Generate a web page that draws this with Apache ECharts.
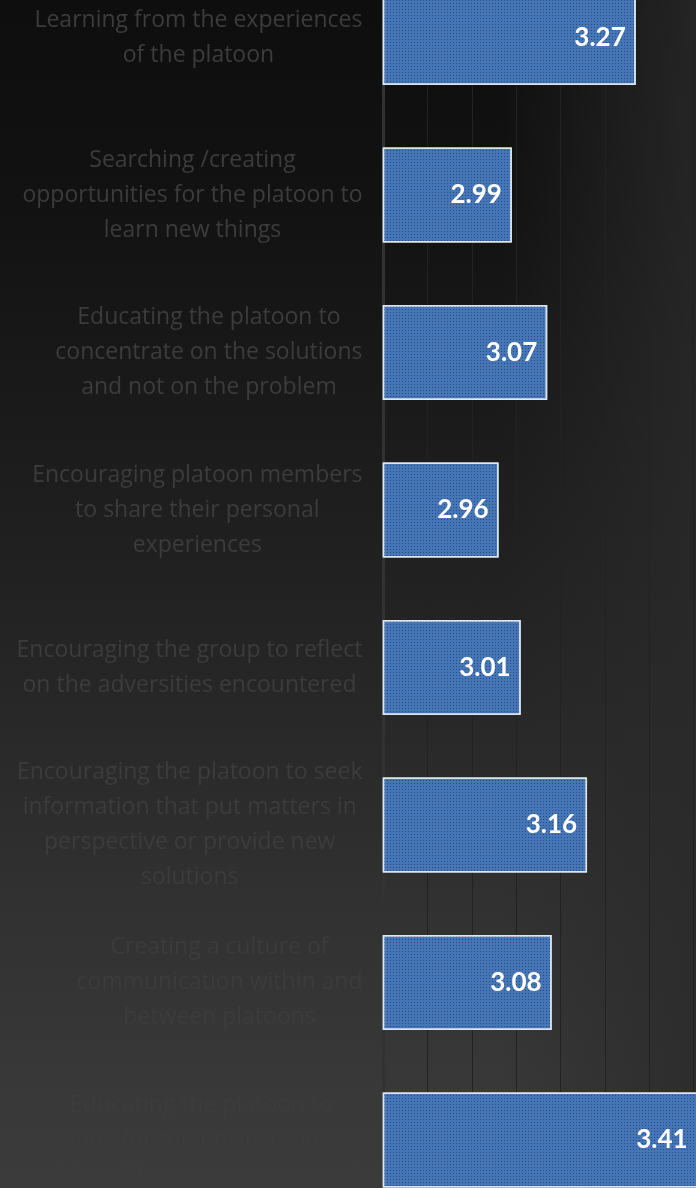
<!DOCTYPE html>
<html>
<head>
<meta charset="utf-8">
<script src="https://cdn.jsdelivr.net/npm/echarts@6/dist/echarts.min.js"></script>
<style>
html,body{margin:0;padding:0;background:#0e0e0e;}
#chart{width:696px;height:1188px;}
</style>
</head>
<body>
<div id="chart"></div>
<script>
var categories = [
  "Learning from the experiences\nof the platoon",
  "Searching /creating\nopportunities for the platoon to\nlearn new things",
  "Educating the platoon to\nconcentrate on the solutions\nand not on the problem",
  "Encouraging platoon members\nto share their personal\nexperiences",
  "Encouraging the group to reflect\non the adversities encountered",
  "Encouraging the platoon to seek\ninformation that put matters in\nperspective or provide new\nsolutions",
  "Creating a culture of\ncommunication within and\nbetween platoons",
  "Educating the platoon to\nlook for the positive side\nof the difficulties encountered"
];
var values = [3.27, 2.99, 3.07, 2.96, 3.01, 3.16, 3.08, 3.41];
var axisMin = 2.7, axisMax = 3.5, axisStep = 0.1;

var chart = echarts.init(document.getElementById('chart'), null, {renderer: 'canvas'});
var option = {
  animation: false,
  backgroundColor: {
    type: 'linear', x: 0, y: 0, x2: 0, y2: 1,
    colorStops: [
      {offset: 0, color: '#0e0e0e'},
      {offset: 0.17, color: '#121212'},
      {offset: 0.38, color: '#1c1c1c'},
      {offset: 0.5, color: '#222222'},
      {offset: 0.76, color: '#313131'},
      {offset: 0.93, color: '#393939'},
      {offset: 1, color: '#3b3b3b'}
    ]
  },
  graphic: [
    {
      type: 'rect', z: -10, silent: true,
      shape: {x: 500, y: 0, width: 196, height: 1188},
      style: {fill: {type: 'linear', x: 0, y: 0, x2: 1, y2: 0,
        colorStops: [{offset: 0, color: 'rgba(42,42,42,0)'}, {offset: 1, color: 'rgba(42,42,42,0.8)'}]}}
    }
  ],
  grid: {left: 383.5, top: -41.25, width: 354, height: 1260, containLabel: false, outerBoundsMode: 'none'},
  xAxis: {
    type: 'value', min: axisMin, max: axisMax, interval: axisStep,
    axisLabel: {show: false}, axisTick: {show: false}, axisLine: {show: false},
    splitLine: {show: true, lineStyle: {color: '#222222', width: 1}}
  },
  yAxis: {
    type: 'category', inverse: true, data: categories,
    axisTick: {show: false},
    axisLine: {show: true, lineStyle: {color: '#323232', width: 3}},
    axisLabel: {
      margin: 21, align: 'right',
      formatter: function (v) {
        return v.split('\n').map(function (l) { return '{c|' + l + '}'; }).join('\n');
      },
      rich: {
        c: {align: 'center', color: '#3c3c3c', fontSize: 23, lineHeight: 35, fontFamily: 'Open Sans'}
      }
    }
  },
  series: [{
    type: 'bar', data: values, barWidth: 95,
    itemStyle: {
      color: '#4577b8', borderColor: '#dde5ef', borderWidth: 1.5,
      decal: {symbol: 'rect', symbolSize: 1, dashArrayX: [1, 2], dashArrayY: [1, 2], color: 'rgba(20,35,70,0.55)'}
    },
    label: {
      show: true, position: 'insideRight', distance: 10,
      color: '#ffffff', fontWeight: 'bold', fontSize: 26, fontFamily: 'Lato',
      formatter: function (p) { return p.value.toFixed(2); }
    }
  }]
};
chart.setOption(option);
</script>
</body>
</html>
